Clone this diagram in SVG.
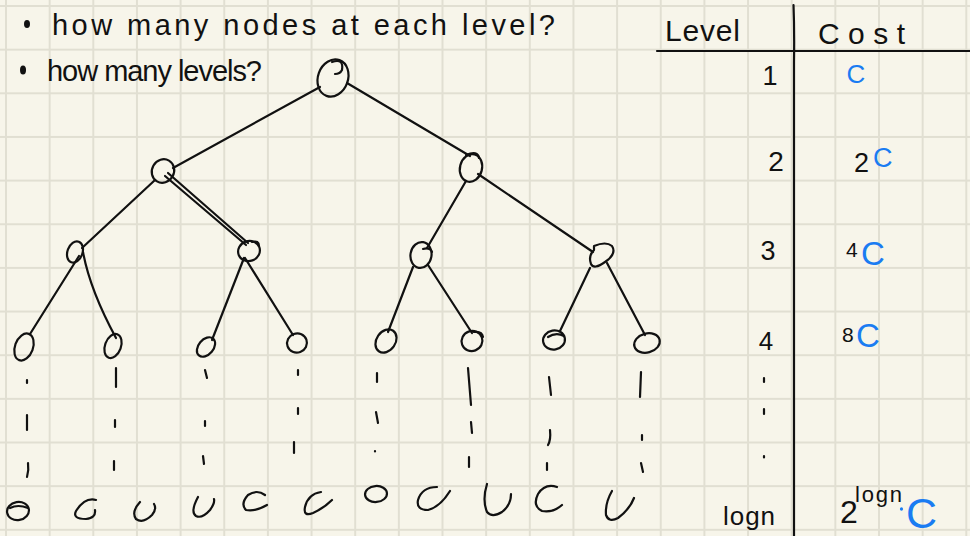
<svg xmlns="http://www.w3.org/2000/svg" width="970" height="536" viewBox="0 0 970 536">
<defs>
<pattern id="grid" patternUnits="userSpaceOnUse" x="-15.825" y="-15.825" width="43.65" height="43.65">
<path d="M21.825 0 V43.65 M0 21.825 H43.65" stroke="#e1dfd2" stroke-width="2" fill="none"/>
</pattern>
<style>
.ink{fill:none;stroke:#111;stroke-width:2.2;stroke-linecap:round;stroke-linejoin:round}
.t{font-family:"Liberation Sans","DejaVu Sans",sans-serif;fill:#111}
.b{font-family:"Liberation Sans","DejaVu Sans",sans-serif;fill:#1a7cf2}
.dot{fill:#111}
</style>
</defs>
<rect width="970" height="536" fill="#f7f5ea"/>
<rect width="970" height="536" fill="url(#grid)"/>

<g id="notes">
<ellipse class="dot" cx="27" cy="24" rx="3" ry="4"/>
<text class="t" x="52" y="35" font-size="29" textLength="503">how many nodes at each level?</text>
<ellipse class="dot" cx="23" cy="70" rx="3" ry="4.5"/>
<text class="t" x="47" y="81" font-size="29" textLength="215">how many levels?</text>
</g>

<g id="table">
<path class="ink" d="M657 51 H970"/>
<path class="ink" d="M793.5 5 Q794.5 30 794 62 V536"/>
<text class="t" x="665" y="41" font-size="30" textLength="75">Level</text>
<text class="t" x="818" y="44" font-size="30" textLength="87">Cost</text>
<text class="t" x="770" y="85" font-size="27" text-anchor="middle">1</text>
<text class="t" x="776" y="171" font-size="28" text-anchor="middle">2</text>
<text class="t" x="768" y="260" font-size="27" text-anchor="middle">3</text>
<text class="t" x="766" y="350" font-size="26" text-anchor="middle">4</text>
<path class="ink" d="M764 378 V382 M764 409 V414 M764 456 V457.5"/>
<text class="t" x="723" y="525" font-size="26" textLength="52">logn</text>
<text class="b" x="856" y="83" font-size="26" text-anchor="middle">C</text>
<text class="t" x="854" y="172" font-size="27">2</text>
<text class="b" x="873" y="167" font-size="27">C</text>
<text class="t" x="846" y="257" font-size="21">4</text>
<text class="b" x="861" y="265" font-size="33">C</text>
<text class="t" x="842" y="342" font-size="21">8</text>
<text class="b" x="856" y="347" font-size="33">C</text>
<text class="t" x="840" y="523" font-size="32">2</text>
<text class="t" x="855" y="502" font-size="22" textLength="47">logn</text>
<ellipse cx="901.5" cy="509" rx="1.6" ry="1.8" fill="#1a7cf2"/>
<text class="b" x="906" y="528" font-size="43">C</text>
</g>

<g id="connectors" class="ink">
<path d="M320 87 L173 168"/>
<path d="M347 83 L470 156"/>
<path d="M155 180 L82 248"/>
<path d="M165 176 L246 245 M168 173 L248 243"/>
<path d="M466 181 L427 248"/>
<path d="M478 174 L593 252"/>
<path d="M79 256 L30 334"/>
<path d="M83 252 Q90 290 116 338"/>
<path d="M244 258 L212 340"/>
<path d="M245 258 L293 335"/>
<path d="M413 267 L388 332"/>
<path d="M428 265 L472 333"/>
<path d="M590 268 L560 331"/>
<path d="M607 263 L645 335"/>
<path d="M27 380 V383 M27 415 V430 M28 463 Q29 470 27 477"/>
<path d="M116 368 V387 M115 420 V427 M114 461 V470"/>
<path d="M205 370 L207 378 M205 421 V426 M203 456 L204 464"/>
<path d="M298 370 V375 M298 408 V414 M294 442 V453"/>
<path d="M377 373 V382 M376 412 L378 423 M375 451 V451.5"/>
<path d="M468 368 L471 405 M471 422 L472 433 M469 457 V467"/>
<path d="M549 377 L551 395 M550 430 Q551 440 548 445 M547 463 V470"/>
<path d="M641 372 L640 397 M642 435 V440 M641 463 L643 472"/>
</g>

<g id="n-root" class="ink"><ellipse cx="333" cy="78" rx="15" ry="19" transform="rotate(20 333 78)"/><path d="M332 62 Q344 58 342 70 Q340 74 335 74"/></g>
<g id="n-l2a" class="ink"><ellipse cx="163" cy="171" rx="11" ry="12" transform="rotate(30 163 171)"/></g>
<g id="n-l2b" class="ink"><ellipse cx="471" cy="168" rx="11" ry="14" transform="rotate(15 471 168)"/><path d="M466 155 Q478 150 479 158"/></g>
<g id="n-l3a" class="ink"><ellipse cx="75" cy="252" rx="7.5" ry="11" transform="rotate(20 75 252)"/></g>
<g id="n-l3b" class="ink"><ellipse cx="249" cy="251" rx="11" ry="10" transform="rotate(-20 249 251)"/><path d="M252 242 Q259 240 259 246"/></g>
<g id="n-l3c" class="ink"><ellipse cx="421" cy="255" rx="10.5" ry="13" transform="rotate(10 421 255)"/><path d="M423 249 Q430 247 432 252"/></g>
<g id="n-l3d" class="ink"><path d="M594 246 Q606 241 612 246 Q617 254 605 262 Q594 270 591 264 Q588 256 594 250 Z"/></g>
<g id="n-l4a" class="ink"><ellipse cx="24" cy="347" rx="9" ry="14" transform="rotate(20 24 347)"/></g>
<g id="n-l4b" class="ink"><ellipse cx="113" cy="346" rx="8" ry="12.5" transform="rotate(20 113 346)"/></g>
<g id="n-l4c" class="ink"><ellipse cx="206" cy="347" rx="7.5" ry="11" transform="rotate(40 206 347)"/></g>
<g id="n-l4d" class="ink"><ellipse cx="297" cy="343" rx="10" ry="9.5" transform="rotate(-20 297 343)"/></g>
<g id="n-l4e" class="ink"><ellipse cx="386" cy="341" rx="9.5" ry="12.5" transform="rotate(35 386 341)"/></g>
<g id="n-l4f" class="ink"><ellipse cx="472" cy="341" rx="10.5" ry="10" transform="rotate(-20 472 341)"/><path d="M474 332 Q482 331 483 337"/></g>
<g id="n-l4g" class="ink"><ellipse cx="554" cy="340" rx="11" ry="9.5" transform="rotate(-10 554 340)"/><path d="M548 337 Q556 332 564 336"/></g>
<g id="n-l4h" class="ink"><ellipse cx="647" cy="343" rx="13" ry="9.5" transform="rotate(-15 647 343)"/></g>

<g id="leaf1" class="ink"><ellipse cx="18" cy="511" rx="11" ry="9" transform="rotate(-10 18 511)"/><path d="M10 508 Q18 504 28 508"/></g>
<g id="leaf2" class="ink"><path d="M96 500 Q85 497 76 511 Q72 519 86 519 Q96 518 95 510"/></g>
<g id="leaf3" class="ink"><path d="M140 502 Q131 512 136 519 Q143 524 152 515 Q157 509 154 504"/></g>
<g id="leaf4" class="ink"><path d="M198 497 Q190 512 196 516 Q202 519 210 510 Q215 503 214 499"/></g>
<g id="leaf5" class="ink"><path d="M265 495 Q257 489 248 495 Q240 504 246 510 Q255 512 267 505"/></g>
<g id="leaf6" class="ink"><path d="M321 492 Q308 494 305 507 Q303 517 313 513 Q324 508 332 500"/></g>
<g id="leaf7" class="ink"><ellipse cx="376" cy="494" rx="11" ry="8" transform="rotate(-5 376 494)"/></g>
<g id="leaf8" class="ink"><path d="M437 487 Q422 487 418 500 Q416 510 428 510 Q440 507 450 491"/></g>
<g id="leaf9" class="ink"><path d="M487 484 Q482 500 487 512 Q492 518 502 512 Q511 505 511 494"/></g>
<g id="leaf10" class="ink"><path d="M557 487 Q545 483 538 494 Q532 506 542 511 Q553 513 562 505"/></g>
<g id="leaf11" class="ink"><path d="M612 491 Q605 503 606 515 Q609 523 618 518 Q630 509 634 498"/></g>
</svg>
